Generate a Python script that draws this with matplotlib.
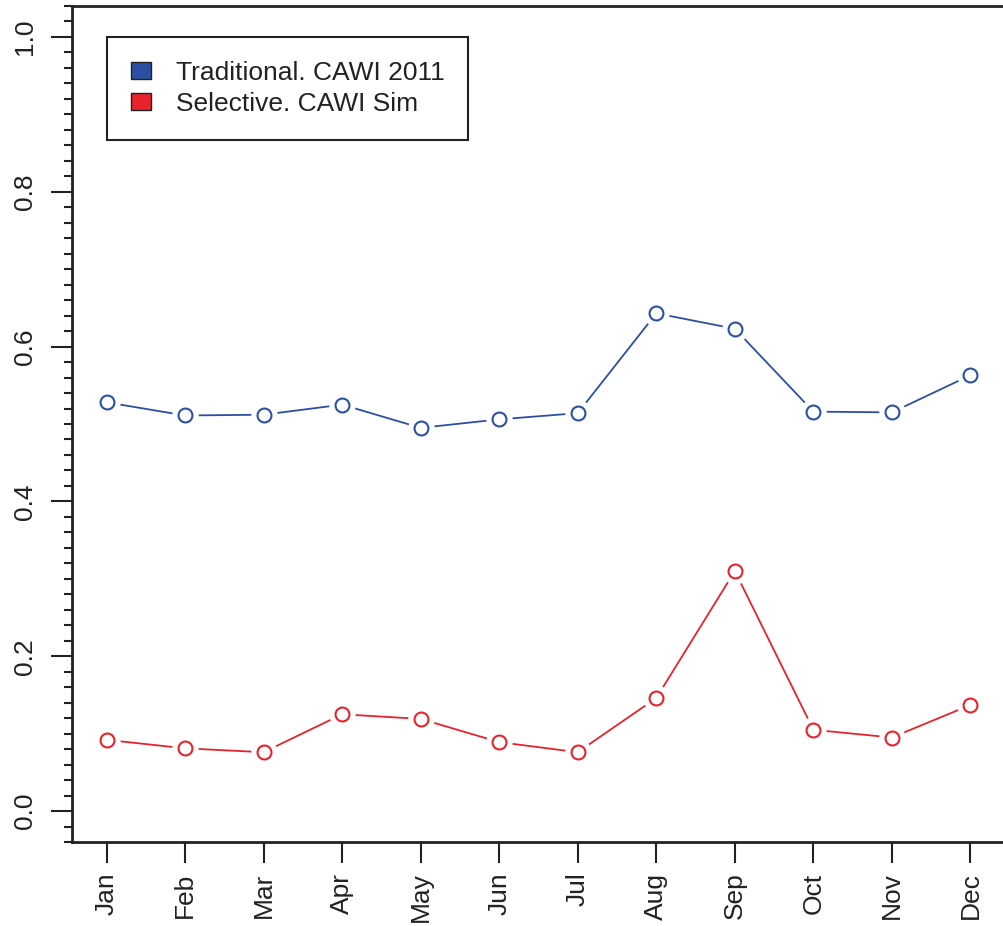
import matplotlib.pyplot as plt
from matplotlib.patches import Patch
from matplotlib.ticker import MultipleLocator

plt.rcParams['font.family'] = ['Liberation Sans', 'DejaVu Sans']

# Datos
meses = ["Jan", "Feb", "Mar", "Apr", "May", "Jun",
         "Jul", "Aug", "Sep", "Oct", "Nov", "Dec"]
tradicional = [0.528, 0.511, 0.512, 0.525, 0.495, 0.506,
               0.514, 0.643, 0.623, 0.516, 0.515, 0.563]
selectivo = [0.092, 0.081, 0.076, 0.125, 0.119, 0.089,
             0.076, 0.146, 0.310, 0.105, 0.095, 0.137]
etiquetas = ["Traditional. CAWI 2011", "Selective. CAWI Sim"]

azul = "#2b4fa3"
rojo = "#e8222a"
negro = "#222222"

fig = plt.figure(figsize=(10.04, 9.26), dpi=100)
ax = fig.add_axes([72 / 1004, 84 / 926, 933 / 1004, 836 / 926])

x = list(range(1, len(meses) + 1))
for serie, color in [(tradicional, azul), (selectivo, rojo)]:
    ax.plot(x, serie, color=color, lw=1.3, zorder=2)
    # huecos blancos alrededor de los puntos (estilo type="b")
    ax.plot(x, serie, ls="none", marker="o", ms=18, mfc="white",
            mec="white", zorder=3)
    ax.plot(x, serie, ls="none", marker="o", ms=10, mfc="white",
            mec=color, mew=1.5, zorder=4)

ax.set_xlim(0.56, 12.44)
ax.set_ylim(-0.04, 1.04)
ax.set_xticks(x)
ax.set_xticklabels(meses, rotation=90, fontsize=19)
ax.yaxis.set_major_locator(MultipleLocator(0.2))
ax.yaxis.set_minor_locator(MultipleLocator(0.02))
ax.set_yticks([0.0, 0.2, 0.4, 0.6, 0.8, 1.0])
ax.set_yticklabels(["0.0", "0.2", "0.4", "0.6", "0.8", "1.0"],
                   rotation=90, va="center", fontsize=19)
ax.tick_params(axis="both", which="major", length=15, width=1.5,
               color=negro, labelcolor=negro)
ax.tick_params(axis="x", pad=7)
ax.tick_params(axis="y", pad=10)
ax.tick_params(axis="y", which="minor", length=6, width=1.5, color=negro)
for lado in ax.spines.values():
    lado.set_linewidth(2)
    lado.set_color(negro)

manejadores = [Patch(facecolor=azul, edgecolor=negro),
               Patch(facecolor=rojo, edgecolor=negro)]
ley = ax.legend(manejadores, etiquetas, loc="upper left",
                bbox_to_anchor=(35 / 933, (842 - 37) / 836), fontsize=19,
                handlelength=0.76, handleheight=0.65, handletextpad=0.95,
                labelspacing=0.27, borderpad=0.9, borderaxespad=0,
                fancybox=False, edgecolor=negro, framealpha=1)
ley.get_frame().set_linewidth(1.5)
for t in ley.get_texts():
    t.set_color(negro)

plt.savefig("out.png", dpi=100)
